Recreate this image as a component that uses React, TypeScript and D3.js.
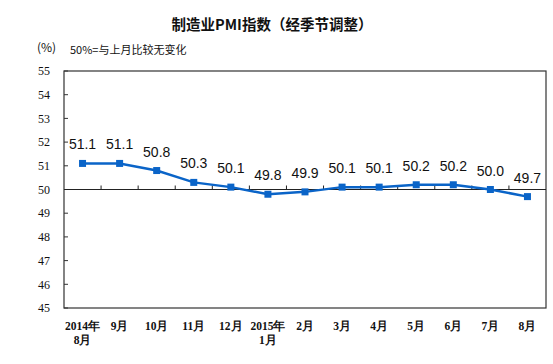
import React from 'react';
import * as d3 from 'd3';

const months = ['2014年\n8月', '9月', '10月', '11月', '12月', '2015年\n1月', '2月', '3月', '4月', '5月', '6月', '7月', '8月'];
const pmi = [51.1, 51.1, 50.8, 50.3, 50.1, 49.8, 49.9, 50.1, 50.1, 50.2, 50.2, 50.0, 49.7];
const yTicks = [45, 46, 47, 48, 49, 50, 51, 52, 53, 54, 55];

const App = () => {
  const width = 553;
  const height = 364;
  const margin = { top: 71, right: 7, bottom: 56, left: 64 };
  const innerWidth = width - margin.left - margin.right;
  const innerHeight = height - margin.top - margin.bottom;

  const x = d3.scaleBand<number>().domain(d3.range(months.length)).range([0, innerWidth]);
  const y = d3.scaleLinear().domain([45, 55]).range([innerHeight, 0]);
  const cx = (i: number) => (x(i) ?? 0) + x.bandwidth() / 2;

  const line = d3.line<number>().x((_, i) => cx(i)).y(d => y(d));
  const color = '#0a64c8';
  const serif = 'SimSun, "Liberation Serif", "DejaVu Serif", serif';
  const cjk = '"Noto Sans CJK SC", sans-serif';

  return (
    <svg width={width} height={height} style={{ position: 'absolute', left: 0, top: 0, background: '#fff' }}>
      <text x={272} y={30} textAnchor="middle" fontSize={14.5} fontWeight={600} fontFamily={cjk} fill="#111">制造业PMI指数（经季节调整）</text>
      <text x={37} y={52} fontSize={12} fontFamily={cjk} fill="#111">(%)</text>
      <text x={70} y={54} fontSize={11} fontFamily={cjk} fill="#111">50%=与上月比较无变化</text>
      <g transform={`translate(${margin.left},${margin.top})`}>
        <rect x={0} y={0} width={innerWidth} height={innerHeight} fill="none" stroke="#333" strokeWidth={1.2} />
        {yTicks.map(t => (
          <g key={t} transform={`translate(0,${y(t)})`}>
            <line x1={0} x2={4} stroke="#333" />
            <text x={-14} dy="0.35em" textAnchor="end" fontSize={12} fontFamily={serif} fill="#111">{t}</text>
          </g>
        ))}
        <line x1={0} x2={innerWidth} y1={y(50)} y2={y(50)} stroke="#222" strokeWidth={1} />
        {d3.range(1, months.length).map(i => (
          <line key={i} x1={x(i)} x2={x(i)} y1={y(50)} y2={y(50) - 4} stroke="#222" />
        ))}
        <path d={line(pmi) ?? ''} fill="none" stroke={color} strokeWidth={2.5} />
        {pmi.map((v, i) => (
          <rect key={i} x={cx(i) - 3.5} y={y(v) - 3.5} width={7} height={7} fill={color} />
        ))}
        {pmi.map((v, i) => (
          <text key={i} x={cx(i)} y={y(v) - 14} textAnchor="middle" fontSize={14} fontFamily='"Liberation Sans", Arial, sans-serif' fill="#111">{v.toFixed(1)}</text>
        ))}
        {months.map((m, i) => (
          <text key={i} x={cx(i)} y={innerHeight + 22} textAnchor="middle" fontSize={11.5} fontWeight="bold" fontFamily={serif} fill="#111">
            {m.split('\n').map((s, j) => (
              <tspan key={j} x={cx(i)} dy={j === 0 ? 0 : 14}>{s}</tspan>
            ))}
          </text>
        ))}
      </g>
    </svg>
  );
};

export default App;
